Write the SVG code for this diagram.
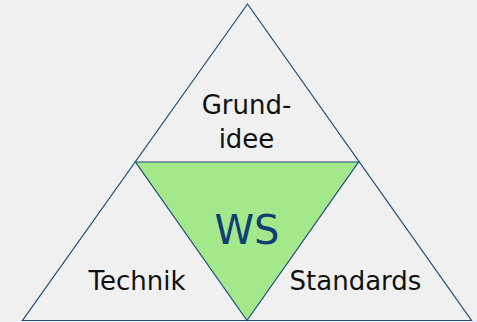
<svg xmlns="http://www.w3.org/2000/svg" width="477" height="322" viewBox="0 0 477 322">
<style>
.tri{stroke:#1f4e79;stroke-width:1.2;stroke-linejoin:miter}
.lbl{font-family:"DejaVu Sans",Verdana,sans-serif;font-size:26px;fill:#111;text-anchor:middle}
.ws{font-family:"DejaVu Sans",Verdana,sans-serif;font-size:40px;fill:#0e3f75;text-anchor:middle}
</style>
<rect width="477" height="322" fill="#f0f0f0"/>
<g id="outer">
<polygon class="tri" points="247.5,4 22.5,320.5 471.5,320.5" fill="none"/>
</g>
<g id="grundidee">
<text class="lbl" x="246.5" y="114">Grund-</text>
<text class="lbl" x="246.5" y="148">idee</text>
</g>
<g id="ws">
<polygon class="tri" points="135.5,162 358.5,162 247,320.5" fill="#a3e88a"/>
<text class="ws" x="247" y="243.5">WS</text>
</g>
<g id="technik">
<text class="lbl" x="137" y="290">Technik</text>
</g>
<g id="standards">
<text class="lbl" x="355.5" y="290">Standards</text>
</g>
<g id="connectors"></g>
</svg>
